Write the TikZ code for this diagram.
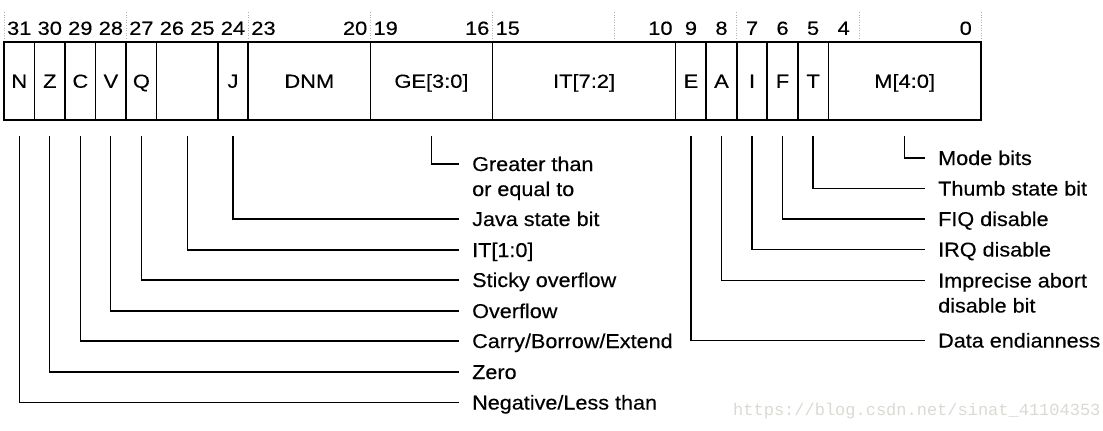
\documentclass[tikz,border=0pt]{standalone}
\usepackage{fontspec}
\setmainfont{Liberation Sans}
\newfontfamily\lblfont[FakeStretch=1.08,FakeBold=0.3]{Liberation Sans}
\newfontfamily\numfont[FakeStretch=1.15,FakeBold=0.3]{Liberation Sans}
\newfontfamily\fldfont[FakeStretch=1.15,FakeBold=0.3]{Liberation Sans}
\newfontfamily\wmfont{Liberation Mono}
\definecolor{wmgray}{RGB}{218,218,210}
\tikzset{
  cell/.style={draw, line width=1.6pt, minimum height=78pt, inner sep=0pt,
    text height=13.6pt, text depth=0pt, font=\fldfont\fontsize{19}{21}\selectfont},
  bitnum/.style={inner sep=0pt, text height=13.6pt, text depth=0pt,
    font=\numfont\fontsize{19}{21}\selectfont},
  lbl/.style={inner sep=0pt, anchor=base west, font=\lblfont\fontsize{20}{25}\selectfont},
  conn/.style={line width=1.2pt},
  tickline/.style={gray!60, dotted, line width=0.6pt},
}
\newcommand\bitconn[2]{\draw[conn] ([yshift=-15pt]#1.south) |- ([xshift=-13pt,yshift=7pt]#2.base west);}
\begin{document}
\begin{tikzpicture}[x=1pt,y=-1pt]
\useasboundingbox (0,0) rectangle (1103,431);
% dotted guide ticks
\foreach \k in {0,4,...,32} {
  \draw[tickline] ({4+\k*30.53125},12) -- ({4+\k*30.53125},42);
}
% bit numbers
\foreach \b in {31,30,29,28,27,26,25,24,23,20,19,16,15,10,9,8,7,6,5,4,0} {
  \node[bitnum] (b\b) at ({4+(31-\b+0.5)*30.53125},28) {\b};
}
% fields
\foreach \h/\l/\nm/\tx in {31/31/N/N, 30/30/Z/Z, 29/29/C/C, 28/28/V/V, 27/27/Q/Q,
  26/25/R/{}, 24/24/J/J, 23/20/DNM/DNM, 19/16/GE/{GE[3:0]}, 15/10/ITH/{IT[7:2]},
  9/9/E/E, 8/8/A/A, 7/7/I/I, 6/6/F/F, 5/5/T/T, 4/0/M/{M[4:0]}} {
  \node[cell, minimum width={(\h-\l+1)*30.53125}] (\nm) at ({4+(63-\h-\l)/2*30.53125},81) {\tx};
}
% left labels
\node[lbl] (lGE) at (472,171) {\begin{tabular}[t]{@{}l@{}}Greater than\\or equal to\end{tabular}};
\node[lbl] (lJ) at (472,226) {Java state bit};
\node[lbl] (lR) at (472,257) {IT[1:0]};
\node[lbl] (lQ) at (472,287) {Sticky overflow};
\node[lbl] (lV) at (472,318) {Overflow};
\node[lbl] (lC) at (472,348) {Carry/Borrow/Extend};
\node[lbl] (lZ) at (472,379) {Zero};
\node[lbl] (lN) at (472,409.5) {Negative/Less than};
% right labels
\node[lbl] (lM) at (938,165) {Mode bits};
\node[lbl] (lT) at (938,195.5) {Thumb state bit};
\node[lbl] (lF) at (938,226) {FIQ disable};
\node[lbl] (lI) at (938,256.5) {IRQ disable};
\node[lbl] (lA) at (938,287.5) {\begin{tabular}[t]{@{}l@{}}Imprecise abort\\disable bit\end{tabular}};
\node[lbl] (lE) at (938,347.5) {Data endianness};
% connectors
\bitconn{GE}{lGE}
\bitconn{J}{lJ}
\bitconn{R}{lR}
\bitconn{Q}{lQ}
\bitconn{V}{lV}
\bitconn{C}{lC}
\bitconn{Z}{lZ}
\bitconn{N}{lN}
\bitconn{M}{lM}
\bitconn{T}{lT}
\bitconn{F}{lF}
\bitconn{I}{lI}
\bitconn{A}{lA}
\bitconn{E}{lE}
% watermark
\node[anchor=west, inner sep=0pt, font=\wmfont\fontsize{17}{17}\selectfont, text=wmgray] (wm) at (733,411) {https://blog.csdn.net/sinat\_41104353};
\end{tikzpicture}
\end{document}
